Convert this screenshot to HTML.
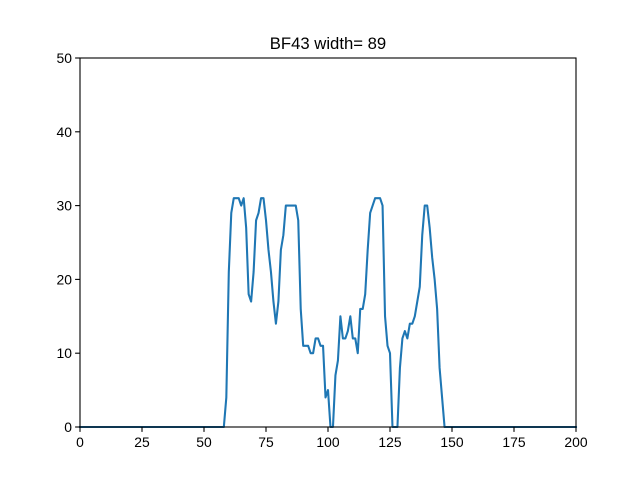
<!DOCTYPE html>
<html><head><meta charset="utf-8"><style>
body{margin:0;background:#fff;}
svg text{font-family:"Liberation Sans","DejaVu Sans",sans-serif;}
</style></head><body>
<svg id="chart" width="640" height="480" xmlns="http://www.w3.org/2000/svg">
<rect width="640" height="480" fill="#fff"/>
<text x="328" y="49" text-anchor="middle" font-size="16.7">BF43 width= 89</text>
<g id="plot"></g>
</svg>
<script>
const xTicks=[0,25,50,75,100,125,150,175,200];
const yTicks=[0,10,20,30,40,50];
const xs=[];for(let i=0;i<=200;i++)xs.push(i);
const segX=[58,59,60,61,62,63,64,65,66,67,68,69,70,71,72,73,74,75,76,77,78,79,80,81,82,83,84,85,86,87,88,89,90,91,92,93,94,95,96,97,98,99,100,101,102,103,104,105,106,107,108,109,110,111,112,113,114,115,116,117,118,119,120,121,122,123,124,125,126,127,128,129,130,131,132,133,134,135,136,137,138,139,140,141,142,143,144,145,146,147];
const segY=[0,4,21,29,31,31,31,30,31,27,18,17,21,28,29,31,31,28,24,21,17,14,17,24,26,30,30,30,30,30,28,16,11,11,11,10,10,12,12,11,11,4,5,0,0,7,9,15,12,12,13,15,12,12,10,16,16,18,24,29,30,31,31,31,30,15,11,10,0,0,0,8,12,13,12,14,14,15,17,19,26,30,30,27,23,20,16,8,4,0];
const ys=xs.map(x=>{const k=segX.indexOf(x);return k>=0?segY[k]:0;});
const L=80,R=576,T=58,B=427;
const sx=v=>L+(v-0)/(200-0)*(R-L);
const sy=v=>B-(v-0)/(50-0)*(B-T);
const NS="http://www.w3.org/2000/svg";
const g=document.getElementById('plot');
function mk(t,a){const e=document.createElementNS(NS,t);for(const k in a)e.setAttribute(k,a[k]);g.appendChild(e);return e;}
const line=mk('polyline',{points:xs.map((x,i)=>sx(x)+','+sy(ys[i])).join(' '),fill:'none',stroke:'#1f77b4','stroke-width':2.08,'stroke-linejoin':'round','stroke-linecap':'square'});


const frame=mk('rect',{x:L,y:T,width:R-L,height:B-T,fill:'none',stroke:'#000','stroke-width':1.1});


xTicks.forEach(v=>{
  const t=mk('line',{x1:sx(v),x2:sx(v),y1:B,y2:B+4.9,stroke:'#000','stroke-width':1.1});
  
  
  const l=mk('text',{x:sx(v),y:B+20,'text-anchor':'middle','font-size':13.9});
  l.textContent=v;
  
  
});
yTicks.forEach(v=>{
  const t=mk('line',{x1:L-4.9,x2:L,y1:sy(v),y2:sy(v),stroke:'#000','stroke-width':1.1});
  
  
  const l=mk('text',{x:L-8,y:sy(v)+5,'text-anchor':'end','font-size':13.9});
  l.textContent=v;
  
  
});
</script>
</body></html>
